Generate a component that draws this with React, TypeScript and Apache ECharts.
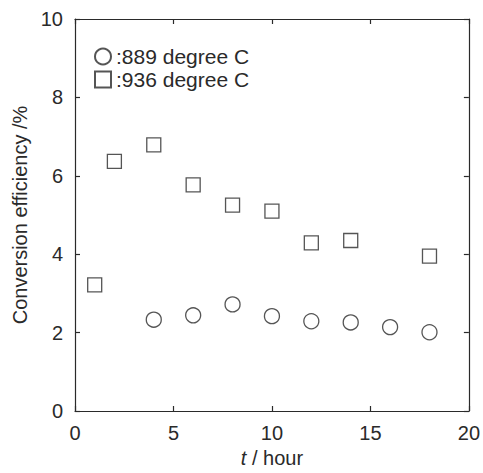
import React, { useEffect, useRef } from "react";
import * as echarts from "echarts";

const hours889 = [4, 6, 8, 10, 12, 14, 16, 18];
const eff889 = [2.33, 2.44, 2.72, 2.42, 2.29, 2.26, 2.14, 2.01];
const hours936 = [1, 2, 4, 6, 8, 10, 12, 14, 18];
const eff936 = [3.22, 6.37, 6.79, 5.77, 5.25, 5.1, 4.29, 4.35, 3.95];
const seriesNames = ["889 degree C", "936 degree C"];

const FONT = "'Liberation Sans', Arial, sans-serif";
const INK = "#2a2a2a";

export default function App() {
  const ref = useRef<HTMLDivElement>(null);
  useEffect(() => {
    if (!ref.current) return;
    const chart = echarts.init(ref.current, undefined, { renderer: "svg" });
    const axisCommon = {
      axisLine: { show: true, onZero: false, lineStyle: { color: INK, width: 1.2 } },
      axisTick: { show: true, inside: true, length: 5, lineStyle: { color: INK, width: 1.2 } },
      splitLine: { show: false },
    };
    chart.setOption({
      animation: false,
      backgroundColor: "#fff",
      textStyle: { fontFamily: FONT },
      grid: { left: 75, right: 14, top: 19, bottom: 60, containLabel: false },
      legend: {
        orient: "vertical",
        left: 89,
        top: 41,
        itemWidth: 16,
        itemHeight: 16,
        itemGap: 2,
        formatter: ":{name}",
        textStyle: { fontSize: 21, color: INK, fontFamily: FONT, padding: [0, 0, 0, 0] },
        data: seriesNames,
      },
      xAxis: [
        {
          type: "value",
          min: 0,
          max: 20,
          interval: 5,
          position: "bottom",
          ...axisCommon,
          axisLabel: { fontSize: 20, color: INK, margin: 12, fontFamily: FONT },
          name: "{i|t} / hour",
          nameLocation: "middle",
          nameGap: 37,
          nameTextStyle: {
            fontSize: 20,
            color: INK,
            fontFamily: FONT,
            rich: { i: { fontStyle: "italic", fontSize: 20, color: INK, fontFamily: FONT } },
          },
        },
        {
          type: "value",
          min: 0,
          max: 20,
          interval: 5,
          position: "top",
          ...axisCommon,
          axisLabel: { show: false },
        },
      ],
      yAxis: [
        {
          type: "value",
          min: 0,
          max: 10,
          interval: 2,
          position: "left",
          ...axisCommon,
          axisLabel: { fontSize: 20, color: INK, margin: 12, fontFamily: FONT },
          name: "Conversion efficiency /%",
          nameLocation: "middle",
          nameGap: 44,
          nameTextStyle: { fontSize: 20, color: INK, fontFamily: FONT },
        },
        {
          type: "value",
          min: 0,
          max: 10,
          interval: 2,
          position: "right",
          ...axisCommon,
          axisLabel: { show: false },
        },
      ],
      series: [
        {
          name: seriesNames[0],
          type: "scatter",
          symbol: "circle",
          symbolSize: 15,
          itemStyle: { color: "rgba(255,255,255,0)", borderColor: INK, borderWidth: 1.3 },
          data: hours889.map((t, i) => [t, eff889[i]]),
        },
        {
          name: seriesNames[1],
          type: "scatter",
          symbol: "rect",
          symbolSize: 14,
          itemStyle: { color: "rgba(255,255,255,0)", borderColor: INK, borderWidth: 1.3 },
          data: hours936.map((t, i) => [t, eff936[i]]),
        },
      ],
    });
    return () => chart.dispose();
  }, []);
  return <div ref={ref} style={{ width: 483, height: 473, position: "absolute", left: 0, top: 0 }} />;
}
